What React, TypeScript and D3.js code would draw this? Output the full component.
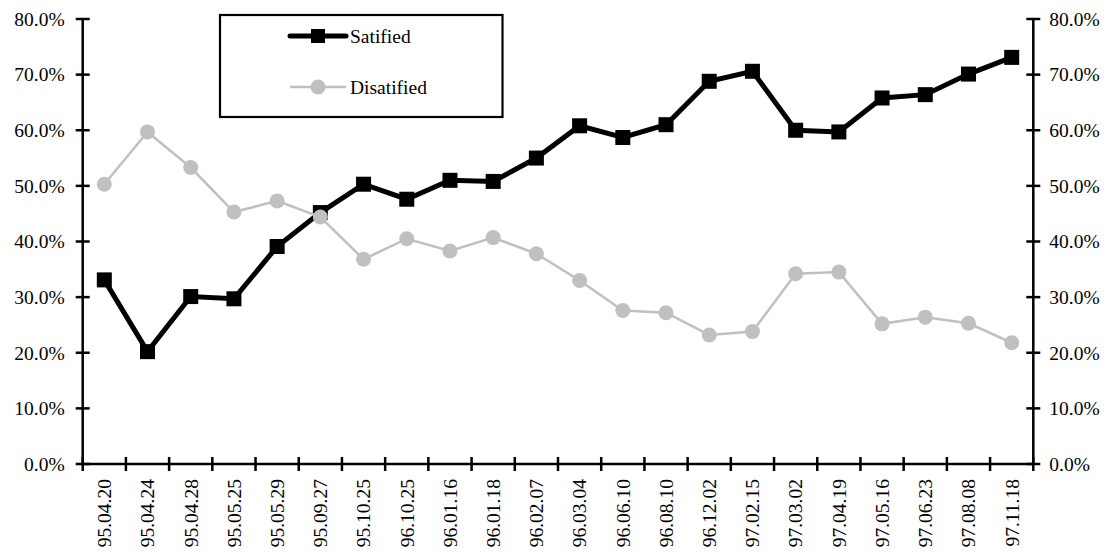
import React from "react";
import * as d3 from "d3";

const categories = [
  "95.04.20", "95.04.24", "95.04.28", "95.05.25", "95.05.29", "95.09.27",
  "95.10.25", "96.10.25", "96.01.16", "96.01.18", "96.02.07", "96.03.04",
  "96.06.10", "96.08.10", "96.12.02", "97.02.15", "97.03.02", "97.04.19",
  "97.05.16", "97.06.23", "97.08.08", "97.11.18",
];

const satisfied = [
  33.1, 20.2, 30.1, 29.7, 39.1, 45.2, 50.3, 47.6, 51.0, 50.8, 55.0,
  60.8, 58.7, 61.0, 68.8, 70.6, 60.0, 59.7, 65.8, 66.4, 70.1, 73.1,
];

const disatisfied = [
  50.3, 59.7, 53.3, 45.3, 47.3, 44.4, 36.8, 40.5, 38.3, 40.7, 37.8,
  33.0, 27.6, 27.2, 23.2, 23.8, 34.2, 34.5, 25.2, 26.4, 25.3, 21.8,
];

const yTicks = [0, 10, 20, 30, 40, 50, 60, 70, 80];

const W = 1106;
const H = 555;
const plot = { left: 82.7, right: 1033.3, top: 19, bottom: 464 };
const textStyle: React.CSSProperties = {
  fontFamily:
    '"Times New Roman", Times, "Liberation Serif", Tinos, "Noto Serif", "DejaVu Serif", serif',
};
const tickSize = 19.5;
const legendSize = 19.5;

export default function App() {
  const x = d3
    .scaleBand<string>()
    .domain(categories)
    .range([plot.left, plot.right])
    .padding(0);
  const y = d3.scaleLinear().domain([0, 80]).range([plot.bottom, plot.top]);
  const cx = (c: string) => (x(c) ?? 0) + x.bandwidth() / 2;

  const line = d3
    .line<number>()
    .x((_, i) => cx(categories[i]))
    .y((v) => y(v));

  const edges = categories.map((c) => x(c) ?? 0).concat([plot.right]);
  const fmt = (v: number) => v.toFixed(1) + "%";

  const legendX = 290;
  const legendW = 56;

  return (
    <svg
      width={W}
      height={H}
      style={{ position: "absolute", left: 0, top: 0, background: "#fff", ...textStyle }}
    >
      <rect x={0} y={0} width={W} height={H} fill="#fff" />

      {/* left and right value axes */}
      {[plot.left, plot.right].map((ax, k) => (
        <g key={"ax" + k}>
          <line x1={ax} x2={ax} y1={plot.top} y2={plot.bottom} stroke="#000" strokeWidth={2.5} />
          {yTicks.map((t) => (
            <g key={t}>
              <line x1={ax - 7} x2={ax + 7} y1={y(t)} y2={y(t)} stroke="#000" strokeWidth={2.5} />
              <text
                x={k === 0 ? ax - 18 : ax + 16}
                y={y(t)}
                dy="0.35em"
                textAnchor={k === 0 ? "end" : "start"}
                fontSize={tickSize}
                fill="#000"
                style={textStyle}
              >
                {fmt(t)}
              </text>
            </g>
          ))}
        </g>
      ))}

      {/* category axis */}
      <line x1={plot.left} x2={plot.right} y1={plot.bottom} y2={plot.bottom} stroke="#000" strokeWidth={2.5} />
      {edges.map((e, i) => (
        <line key={"e" + i} x1={e} x2={e} y1={plot.bottom - 7} y2={plot.bottom + 7} stroke="#000" strokeWidth={2.5} />
      ))}
      {categories.map((c) => (
        <text
          key={c}
          transform={`translate(${cx(c)},${plot.bottom + 15}) rotate(-90)`}
          dy="0.35em"
          textAnchor="end"
          fontSize={tickSize}
          fill="#000"
          style={textStyle}
        >
          {c}
        </text>
      ))}

      {/* Satified series */}
      <path d={line(satisfied) ?? ""} fill="none" stroke="#000" strokeWidth={5} strokeLinejoin="miter" />
      {satisfied.map((v, i) => (
        <rect key={"s" + i} x={cx(categories[i]) - 7.5} y={y(v) - 7.5} width={15} height={15} fill="#000" />
      ))}

      {/* Disatified series */}
      <path d={line(disatisfied) ?? ""} fill="none" stroke="#C0C0C0" strokeWidth={2.5} />
      {disatisfied.map((v, i) => (
        <circle key={"d" + i} cx={cx(categories[i])} cy={y(v)} r={7.5} fill="#C0C0C0" />
      ))}

      {/* legend */}
      <rect x={220} y={15} width={282.5} height={102} fill="#fff" stroke="#000" strokeWidth={2.2} />
      <line x1={legendX} x2={legendX + legendW} y1={36} y2={36} stroke="#000" strokeWidth={5} strokeLinecap="round" />
      <rect x={legendX + legendW / 2 - 7} y={36 - 7} width={14} height={14} fill="#000" />
      <text x={350} y={36} dy="0.35em" fontSize={legendSize} fill="#000" style={textStyle}>Satified</text>
      <line x1={legendX} x2={legendX + legendW} y1={87} y2={87} stroke="#C0C0C0" strokeWidth={2.5} />
      <circle cx={legendX + legendW / 2} cy={87} r={7.5} fill="#C0C0C0" />
      <text x={350} y={87} dy="0.35em" fontSize={legendSize} fill="#000" style={textStyle}>Disatified</text>
    </svg>
  );
}
